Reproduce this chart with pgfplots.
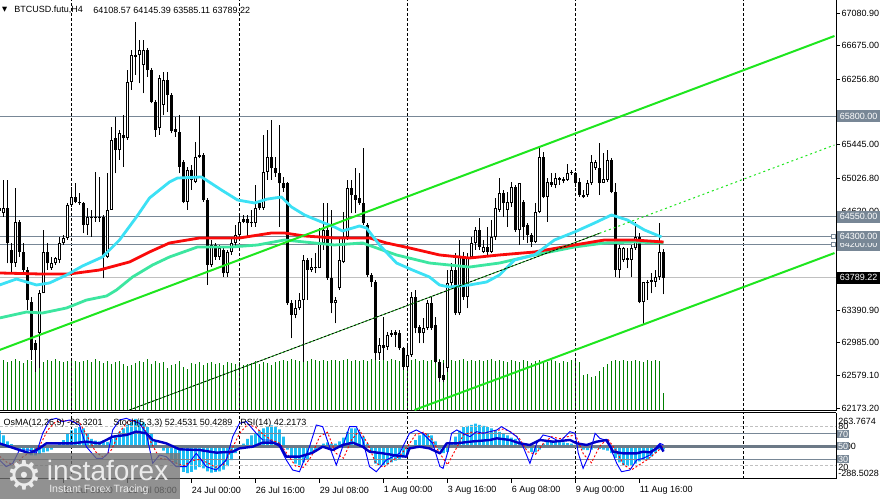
\documentclass[border=0pt]{standalone}
\usepackage{pgfplots}
\pgfplotsset{compat=1.18}
\usepackage{pgfplotstable}
\usepackage{fontspec}
\setmainfont{Liberation Sans}
\newfontfamily\dejavu{DejaVu Sans}
\definecolor{lvl}{RGB}{120,135,150}
\definecolor{bidc}{RGB}{192,192,192}
\definecolor{maR}{RGB}{250,10,10}
\definecolor{maC}{RGB}{60,225,245}
\definecolor{maT}{RGB}{60,230,160}
\definecolor{chan}{RGB}{30,230,30}
\definecolor{volc}{RGB}{0,128,0}
\definecolor{osmac}{RGB}{30,190,245}
\definecolor{rsic}{RGB}{0,0,200}
\newcommand{\lab}{\fontsize{6.75}{8}\selectfont}

\pgfplotstableread{
i O H L C
0 64660 64985 64470 64620
1 64592 65006 64550 64654
2 64654 65006 63971 64219
3 64136 64219 63867 63971
4 63971 64902 63929 64488
5 64488 64509 64053 64115
6 64115 64219 63846 63888
7 63888 63929 63390 63515
8 63494 63556 62769 62893
9 62976 63018 62624 62893
10 63101 63639 62666 63598
11 63598 64384 63598 64115
12 64115 64219 63888 63971
13 63908 64053 63888 63971
14 63971 64053 63950 64032
15 64012 64302 63971 64219
16 64219 64322 64198 64281
17 64281 64716 64260 64695
18 64695 64923 64674 64799
19 64799 64964 64716 64737
20 64716 64840 64695 64737
21 64716 64737 64343 64447
22 64447 64654 64322 64550
23 64550 64633 64302 64530
24 64550 65109 64488 64538
25 64542 65047 64488 64530
26 64550 64571 63784 64053
27 64053 65088 64032 64633
28 64633 65668 64633 65503
29 65523 65793 65088 65378
30 65378 65627 65254 65585
31 65565 65813 65171 65523
32 65523 66373 65503 66227
33 66227 66621 66124 66559
34 66538 66973 66310 66559
35 66559 66745 66207 66621
36 66434 66745 66082 66621
37 66621 66642 66290 66372
38 66372 66393 65958 65979
39 65979 65999 65544 65627
40 65648 66310 65565 66269
41 65938 66352 65813 66248
42 66248 66352 65855 66062
43 66062 66083 65586 65619
44 65640 65793 65544 65600
45 65606 65813 65088 65171
46 65234 65250 64716 64737
47 64737 65171 64633 65130
48 65130 65192 64882 65006
49 64985 65482 64964 65296
50 65296 65801 65275 65316
51 65316 65337 64737 64757
52 64757 64778 63701 63950
53 63950 64260 63929 64198
54 64198 64219 64012 64053
55 64053 64198 64012 64157
56 64136 64157 63805 63846
57 63846 64136 63805 64115
58 64115 64302 64074 64219
59 64219 64447 64177 64322
60 64322 64592 64302 64488
61 64488 64571 64467 64517
62 64517 64571 64302 64467
63 64467 64633 64426 64488
64 64467 64944 64426 64654
65 64716 64757 64633 64654
66 64654 65565 64633 65109
67 65109 65627 65006 65296
68 65296 65751 65006 65151
69 65151 65296 65047 65088
70 65088 65689 64426 64964
71 64964 65047 64861 64902
72 64964 64980 63453 63473
73 63473 63515 63038 63328
74 63328 63515 63287 63411
75 63411 63598 63390 63515
76 63515 64074 62748 64012
77 64012 64032 63515 63888
78 63888 64032 63867 63929
79 63929 64095 63846 63908
80 63908 64405 63908 64219
81 64219 64716 64136 64384
82 64384 64716 63763 63784
83 63784 64633 63349 63473
84 63473 63556 63225 63515
85 63660 64302 63639 64012
86 63991 64612 63971 64302
87 64302 65006 64260 64902
88 64902 65006 64592 64819
89 64819 65151 64592 64757
90 64778 65088 64695 64716
91 64716 65399 64447 64467
92 64447 64467 63805 63826
93 63826 63846 63681 63743
94 63743 63763 62769 62852
95 62852 63038 62769 62956
96 62956 63308 62769 62914
97 62935 63121 62893 63080
98 63080 63142 63059 63109
99 63121 63142 62935 63080
100 63101 63142 62893 62914
101 62914 62935 62645 62680
102 62680 62976 62645 62831
103 62831 63618 62811 63556
104 63556 63639 63101 63163
105 63183 63204 62976 63101
106 63101 63287 62976 63163
107 63163 63515 63142 63473
108 63473 63556 63142 63163
109 63200 63308 62728 62748
110 62748 62769 62500 62540
111 62580 62728 62490 62520
112 62666 63888 62624 63722
113 63722 63971 63681 63888
114 63888 64095 63328 63349
115 63349 64260 63328 64053
116 64053 64115 63515 63556
117 63556 64095 63411 64053
118 64053 64302 64032 64219
119 64219 64426 64136 64384
120 64384 64530 64136 64177
121 64115 64260 64095 64177
122 64177 64426 64053 64115
123 64115 64509 64095 64302
124 64302 64778 64260 64654
125 64633 65026 64612 64840
126 64840 64882 64550 64716
127 64633 64861 64426 64737
128 64716 64985 64674 64923
129 64923 64944 64364 64384
130 64384 64973 64198 64964
131 64737 64757 64260 64426
132 64447 64467 64219 64322
133 64322 64343 64177 64240
134 64240 64716 64219 64612
135 64612 65399 64592 65296
136 65296 65358 64778 64799
137 64799 65026 64488 64985
138 64985 65088 64923 64944
139 64944 65088 64902 65026
140 65026 65047 64944 65006
141 64997 65047 64964 65014
142 65006 65205 64997 65088
143 65088 65130 65068 65101
144 65088 65109 64923 64964
145 64985 65026 64799 64819
146 64790 64882 64778 64819
147 64819 65006 64799 64964
148 64964 65316 64944 65234
149 65151 65254 65130 65234
150 65151 65461 64819 64964
151 64973 65337 64964 65014
152 65006 65378 64985 65254
153 65254 65275 64840 64861
154 64861 64964 63805 63888
155 63888 64198 63784 64157
156 64012 64177 63991 64157
157 64012 64157 63908 64032
158 64012 64198 63805 64157
159 64157 64488 64136 64302
160 64302 64343 63473 63494
161 63494 63743 63204 63743
162 63743 63763 63515 63722
163 63743 63846 63598 63763
164 63743 63888 63681 63805
165 63805 64467 63763 64115
166 64108.57 64145.39 63585.11 63789.22
}\candles

\pgfplotstableread{
v
50
51
49
50
52
50
48
51
50
53
50
49
51
50
52
50
49
50
51
50
49
50
51
49
52
50
48
50
47
49
50
47
45
46
48
50
49
52
47
50
48
49
43
46
47
50
44
42
48
47
49
46
48
49
47
48
46
49
48
47
49
46
47
48
50
47
49
48
46
49
50
51
50
52
51
50
51
50
52
51
50
51
50
51
51
50
51
52
50
51
50
51
50
52
51
50
51
50
52
51
50
51
50
51
52
50
51
50
51
50
52
51
50
51
50
51
52
50
51
50
51
50
51
52
50
51
50
49
51
50
49
51
50
48
50
51
50
49
51
50
48
50
49
51
50
49
36
37
34
35
40
44
47
50
51
50
51
50
50
51
50
49
51
50
51
50
18
}\volume

\pgfplotstableread{
h
130
90
40
15
-20
-35
-50
-65
-79
-79
-70
-55
-45
-30
0
20
50
100
133
150
160
150
100
60
45
40
48
35
60
90
120
150
180
205
230
220
200
160
100
40
-10
-40
-70
-110
-150
-180
-220
-230
-220
-200
-180
-190
-215
-225
-220
-215
-200
-170
-120
-60
-20
20
60
90
110
130
150
160
175
165
140
80
-30
-100
-150
-165
-140
-110
-70
-40
-10
20
30
20
20
40
70
120
150
150
120
80
20
-60
-150
-165
-165
-155
-140
-125
-110
-95
-70
-20
50
90
100
105
90
40
-30
-60
-50
20
80
130
160
170
180
190
180
170
160
150
135
120
100
90
70
60
40
10
-20
-50
-55
-30
20
40
45
40
35
30
25
20
10
-10
-30
-35
-30
-20
-25
-30
-40
-60
-100
-140
-165
-170
-165
-150
-130
-120
-110
-90
-60
-30
-28
}\osmadata

\begin{document}
\begin{tikzpicture}
\useasboundingbox (0pt,0pt) rectangle (664.5pt,374.25pt);
\fill[white] (0pt,0pt) rectangle (664.5pt,374.25pt);

% ---------- volume overlay
\begin{axis}[at={(0pt,66pt)}, anchor=south west, width=627pt, height=308.25pt,
  scale only axis, xmin=0.125, xmax=209.125, ymin=0, ymax=411, hide axis]
\addplot[ycomb, volc, line width=0.75pt, mark=none] table[x expr=\coordindex, y=v] {\volume};
\end{axis}

% ---------- main price pane
\begin{axis}[at={(0pt,66pt)}, anchor=south west, width=627pt, height=308.25pt,
  scale only axis, xmin=0.125, xmax=209.125, ymin=62135.3, ymax=67242,
  axis x line*=bottom, axis y line*=right,
  axis line style={black, line width=0.75pt},
  xtick={18,60,102,144,186}, xticklabels={},
  xtick style={draw=none},
  xmajorgrids=true,
  major grid style={black, line width=0.6pt, dash pattern=on 2.25pt off 1.5pt},
  ytick={62173.2,62579.1,62985,63390.9,64620,65026.8,65445,66256.8,66675,67080.9},
  yticklabels={62173.20,62579.10,62985.00,63390.90,64620.00,65026.80,65445.00,66256.80,66675.00,67080.90},
  tick align=outside, major tick length=3pt,
  ytick style={black, line width=0.6pt},
  yticklabel style={font=\lab, inner xsep=1pt, text=black},
  clip mode=individual]

% horizontal levels
\addplot[lvl, line width=0.75pt] coordinates {(0.125,65800) (209.125,65800)};
\addplot[lvl, line width=0.75pt] coordinates {(0.125,64550) (209.125,64550)};
\addplot[lvl, line width=0.75pt] coordinates {(0.125,64300) (209.125,64300)};
\addplot[lvl, line width=0.75pt] coordinates {(0.125,64200) (209.125,64200)};
\addplot[bidc, line width=0.75pt] coordinates {(0.125,63789.22) (209.125,63789.22)};

% candles: wicks
\addplot[draw=none, mark=none,
  error bars/.cd, y dir=plus, y explicit, error mark=none,
  error bar style={draw=black, line width=0.75pt, solid}]
  table[x=i, y=L, y error plus expr={\thisrow{H}-\thisrow{L}}] {\candles};
% candles: bodies
\addplot[draw=none, mark=none,
  error bars/.cd, y dir=plus, y explicit, error mark=none,
  error bar style={draw=black, line width=2.3pt, solid}]
  table[x=i, y expr={min(\thisrow{O},\thisrow{C})}, y error plus expr={max(abs(\thisrow{C}-\thisrow{O}),10)}] {\candles};
% candles: hollow interior of bullish bodies
\addplot[draw=none, mark=none,
  error bars/.cd, y dir=plus, y explicit, error mark=none,
  error bar style={draw=white, line width=0.8pt, solid}]
  table[x expr={(\thisrow{C}-\thisrow{O}>40) ? \thisrow{i} : -50}, y expr={\thisrow{O}+13}, y error plus expr={max(\thisrow{C}-\thisrow{O}-26,1)}] {\candles};

% moving averages
\addplot[maT, line width=2.1pt, line join=round] coordinates {
(0,63291) (6.75,63365) (10.75,63353) (16.75,63415) (21.75,63514) (26.75,63564) (29.25,63639) (33.25,63800) (38.25,63949) (42.5,64049) (49.5,64173) (58,64173) (64.5,64198) (71.25,64260) (76.25,64235) (83.75,64198) (90.75,64223) (99.25,64074) (107.5,63974) (117.5,63924) (125,63974) (133.75,64074) (143.75,64173) (151.25,64223) (158.75,64235) (166,64223)};
\addplot[maR, line width=2.1pt, line join=round] coordinates {
(0,63850) (10,63838) (17.5,63838) (25,63887) (32.5,63987) (37.5,64111) (42.5,64223) (50,64285) (60,64285) (68,64347) (71.25,64347) (76.25,64310) (83.75,64285) (92.5,64285) (96.75,64223) (102.5,64161) (110,64074) (117.5,64036) (125,64074) (133.75,64111) (143.75,64198) (151.25,64260) (158.75,64260) (166,64235)};
\addplot[maC, line width=2.1pt, line join=round] coordinates {
(0,63701) (4.25,63775) (6.75,63738) (9.25,63701) (12.5,63726) (16.75,63825) (20.75,63937) (25.75,64049) (30,64260) (34.25,64546) (37.5,64782) (42.5,64981) (44.5,65030) (50.5,65043) (55.5,64881) (59.5,64757) (63.75,64720) (67,64769) (70.5,64794) (73,64670) (76.25,64571) (80.5,64484) (83.75,64421) (85.75,64372) (90,64434) (91.75,64409) (95,64198) (99.25,63974) (103.25,63887) (107.5,63800) (110,63701) (112.5,63676) (117.5,63701) (121.75,63738) (125,63825) (128.75,64011) (133.75,64074) (138.75,64260) (143.75,64359) (148.75,64471) (153,64571) (157,64508) (161.25,64384) (165.5,64297)};

% channel
\addplot[chan, line width=1.5pt] coordinates {(0,62893) (208.75,66795)};
\addplot[chan, line width=1.5pt] coordinates {(103.75,62148) (208.75,64098)};
\addplot[chan!70!black, line width=0.6pt] coordinates {(32.5,62148) (150,64343)};
\addplot[black, line width=0.6pt, dash pattern=on 1.5pt off 1.5pt] coordinates {(32.5,62148) (150,64343)};
\addplot[chan, line width=0.75pt, dash pattern=on 1.5pt off 2.25pt] coordinates {(150,64343) (208.75,65440)};

% level tags
\node[fill=lvl, text=white, font=\lab, anchor=west, inner xsep=2pt, inner ysep=0pt, minimum height=9pt, xshift=0.75pt] at (axis cs:209.125,65800) {65800.00};
\node[fill=lvl, text=white, font=\lab, anchor=west, inner xsep=2pt, inner ysep=0pt, minimum height=9pt, xshift=0.75pt] at (axis cs:209.125,64550) {64550.00};
\node[fill=lvl, text=white, font=\lab, anchor=west, inner xsep=2pt, inner ysep=0pt, minimum height=9pt, xshift=0.75pt] at (axis cs:209.125,64200) {64200.00};
\node[fill=lvl, text=white, font=\lab, anchor=west, inner xsep=2pt, inner ysep=0pt, minimum height=9pt, xshift=0.75pt] at (axis cs:209.125,64300) {64300.00};
\node[fill=black, text=white, font=\lab, anchor=west, inner xsep=2pt, inner ysep=0pt, minimum height=9pt, xshift=0.75pt] at (axis cs:209.125,63789.22) {63789.22};
\node[draw=lvl, fill=white, line width=0.5pt, minimum size=3pt, inner sep=0pt] at (axis cs:208.4,64300) {};
\node[draw=lvl, fill=white, line width=0.5pt, minimum size=3pt, inner sep=0pt] at (axis cs:208.4,64200) {};
\end{axis}

% ---------- OsMA histogram overlay
\begin{axis}[at={(0pt,15pt)}, anchor=south west, width=627pt, height=49.5pt,
  scale only axis, xmin=0.125, xmax=209.125, ymin=-280, ymax=280, hide axis]
\addplot[ybar, bar width=0.7, fill=osmac, draw=none] table[x expr=\coordindex, y=h] {\osmadata};
\end{axis}

% ---------- oscillator pane
\begin{axis}[at={(0pt,15pt)}, anchor=south west, width=627pt, height=49.5pt,
  scale only axis, xmin=0.125, xmax=209.125, ymin=0, ymax=101.5,
  separate axis lines, axis x line*=box, axis y line*=right,
  axis line style={black, line width=0.75pt},
  ytick=\empty,
  xtick={0,16,32,48,64,80,96,112,128,144,160},
  xticklabels={16 Jul 2024,18 Jul 16:00,21 Jul 08:00,24 Jul 00:00,26 Jul 16:00,29 Jul 08:00,1 Aug 00:00,3 Aug 16:00,6 Aug 08:00,9 Aug 00:00,11 Aug 16:00},
  xtick pos=left,
  tick align=outside, major tick length=3pt,
  xtick style={black, line width=0.6pt},
  xticklabel style={font=\lab, anchor=north west, inner xsep=0pt, inner ysep=2.5pt, text=black},
  extra x ticks={18,60,102,144,186}, extra x tick labels={},
  extra x tick style={xmajorgrids=true, major tick length=0pt},
  major grid style={black, line width=0.6pt, dash pattern=on 2.25pt off 1.5pt},
  clip mode=individual]
\addplot[bidc, line width=0.75pt, dash pattern=on 2.25pt off 1.5pt] coordinates {(0.125,80) (209.125,80)};
\addplot[bidc, line width=0.75pt, dash pattern=on 2.25pt off 1.5pt] coordinates {(0.125,20) (209.125,20)};
\addplot[lvl, line width=0.75pt] coordinates {(0.125,70) (209.125,70)};
\addplot[lvl, line width=0.75pt] coordinates {(0.125,30) (209.125,30)};
\addplot[lvl!90!black, line width=1.6pt] coordinates {(0.125,50) (209.125,50)};
% stochastic signal
\addplot[red, line width=0.7pt, dash pattern=on 1.5pt off 1.5pt] coordinates {
(0,35) (2,25) (4,22) (6,35) (8,42) (10,50) (12,75) (14,88) (16,90) (18,89) (20,87) (22,65) (24,42) (26,33) (28,45) (30,72) (32,88) (34,90) (36,80) (38,55) (40,32) (42,30) (44,25) (46,20) (48,28) (50,30) (52,25) (54,18) (56,22) (58,45) (60,70) (62,84) (64,80) (66,68) (68,60) (70,55) (72,38) (74,20) (76,18) (78,35) (80,65) (82,72) (84,40) (86,32) (88,60) (90,75) (92,55) (94,25) (96,18) (98,28) (100,35) (102,50) (104,68) (106,72) (108,62) (110,40) (112,22) (114,45) (116,68) (118,72) (120,70) (122,72) (124,74) (126,77) (128,72) (130,62) (132,42) (134,38) (136,55) (138,65) (140,62) (142,65) (144,68) (146,38) (148,25) (150,50) (152,62) (154,45) (156,22) (158,14) (160,22) (162,30) (164,40) (166,50.43)};
% stochastic main
\addplot[blue, line width=0.7pt] coordinates {
(0,29.2) (1.7,19) (3.3,24.1) (5,44.6) (7.5,44.6) (9.2,39.5) (10.8,70.2) (12.5,90.7) (14.2,93.3) (15.8,88.2) (17.5,90.7) (20,83) (21.7,49.7) (24.2,31.8) (25.8,31.8) (27.1,39.5) (28.3,75.4) (30,90.7) (31.7,93.3) (35,85.6) (36.7,70.2) (38.3,24.1) (40,36.9) (41.7,34.3) (44.2,19) (46.7,19) (49.2,39.5) (51.7,19) (54.2,13.8) (56.7,29.2) (58.3,65.1) (60,85.6) (61.7,88.2) (64.2,70.2) (65.8,60) (67.5,60) (70,49.7) (71.7,29.2) (73.3,13.8) (75,11.2) (77.5,49.7) (79.2,83) (80.8,80.5) (82.5,49.7) (84.2,21.5) (85.8,49.7) (87.5,80.5) (89.2,80.5) (90.8,60) (92.5,19) (94.2,11.2) (96.7,29.2) (100,39.5) (102.5,70.2) (104.2,75.4) (105.8,70.2) (108.3,54.8) (110.1,19) (110.9,16.4) (112.2,44.6) (113,70.2) (114.3,75.4) (115.9,70.2) (117.6,65.1) (119.3,72.8) (120.9,70.2) (122.6,72.8) (124.3,75.4) (125.5,80.5) (127.6,72.8) (129.3,65.1) (130.9,49.7) (132.6,24.1) (134.3,54.8) (135.9,67.7) (137.6,65.1) (140.1,57.4) (142.6,72.8) (143.9,70.2) (144.7,39.5) (145.9,16.4) (147.6,39.5) (148.9,70.2) (150.1,62.5) (151.4,60) (152.6,49.7) (154.3,24.1) (155.5,11.2) (157.6,13.8) (159.3,29.2) (160.9,31.8) (162.6,36.9) (164.3,49.7) (165.1,54.8) (166,52.45)};
% RSI
\addplot[rsic, line width=1.8pt, line join=round] coordinates {
(0,54.8) (2.5,49.7) (5,44.6) (7.5,39.5) (10,47.1) (11.7,54.8) (15,54.8) (18.3,54.8) (21.7,57.4) (25,54.8) (26.7,60) (28.3,65.1) (31.7,67.7) (34.2,72.8) (36.7,70.2) (38.3,60) (41.7,54.8) (45,45.6) (50,44.6) (54.2,40.5) (58.3,42) (60,47.1) (63.3,49.7) (65.8,55.9) (68.3,55.9) (70,52.3) (71.7,34.3) (75,34.3) (78.3,40.5) (80.8,49.7) (83.3,44.6) (85.8,52.3) (88.3,55.9) (90.8,49.7) (92.5,42) (95.8,39.5) (100,35.3) (101.7,34.3) (102.5,47.1) (105,49.7) (107.5,47.1) (110.1,39.5) (111.8,54.8) (114.3,54.8) (117.6,57.4) (122.6,60) (124.3,62.5) (127.6,60) (130.1,54.8) (132.6,52.3) (135.1,60) (138.4,57.4) (142.6,60) (144.3,54.8) (146.8,52.3) (149.3,57.4) (151.8,60) (153.4,42) (155.9,39.5) (159.3,39.5) (160.9,42) (162.6,41) (164.3,47.1) (165.1,52) (166,42.2)};
\end{axis}

% ---------- oscillator scale labels
\node[anchor=west, font=\lab, inner sep=0pt] at (628.5pt,54.75pt) {80};
\node[anchor=west, font=\lab, inner sep=0pt] at (628.5pt,58.5pt) {263.7674};
\node[anchor=west, font=\lab, inner sep=0pt] at (628.5pt,39.75pt) {0.00};
\node[anchor=west, font=\lab, inner sep=0pt] at (628.5pt,24pt) {20};
\node[anchor=west, font=\lab, inner sep=0pt] at (628.5pt,19.5pt) {-288.5028};
\node[fill=lvl, text=white, font=\lab, anchor=west, inner xsep=0.7pt, inner ysep=0pt, minimum height=6.5pt] at (627.75pt,48.75pt) {70};
\node[fill=lvl, text=white, font=\lab, anchor=west, inner xsep=0.7pt, inner ysep=0pt, minimum height=6.5pt] at (627.75pt,39.75pt) {50};
\node[fill=lvl, text=white, font=\lab, anchor=west, inner xsep=0.7pt, inner ysep=0pt, minimum height=6.5pt] at (627.75pt,30pt) {30};

% ---------- headers
\node[font=\dejavu\fontsize{5}{6}\selectfont, inner sep=0pt] at (3.6pt,366.75pt) {▼};
\node[anchor=west, font=\lab, inner sep=0pt] at (10.5pt,366.75pt) {BTCUSD.futu,H4};
\node[anchor=west, font=\lab, inner sep=0pt] at (69.75pt,366.75pt) {64108.57 64145.39 63585.11 63789.22};
\node[anchor=west, font=\lab, inner sep=0pt] at (2.5pt,57pt) {OsMA(12,26,9) -28.3201};
\node[anchor=west, font=\lab, inner sep=0pt] at (84.75pt,57pt) {Stoch(5,3,3) 52.4531 50.4289};
\node[anchor=west, font=\lab, inner sep=0pt] at (180pt,57pt) {RSI(14) 42.2173};

% ---------- logo
\fill[black!55, fill opacity=0.78] (0pt,0pt) rectangle (135pt,34.5pt);
\node[text=white!92!black, font=\dejavu\fontsize{30}{30}\selectfont, inner sep=0pt] at (18.5pt,17.5pt) {⚙};
\node[anchor=base west, text=white!92!black, font=\fontsize{21}{21}\selectfont, inner sep=0pt] at (35pt,13.5pt) {instaforex};
\node[anchor=base west, text=white!92!black, font=\fontsize{7.9}{8}\selectfont, inner sep=0pt] at (36.75pt,4.5pt) {Instant Forex Tracing};
\end{tikzpicture}
\end{document}
